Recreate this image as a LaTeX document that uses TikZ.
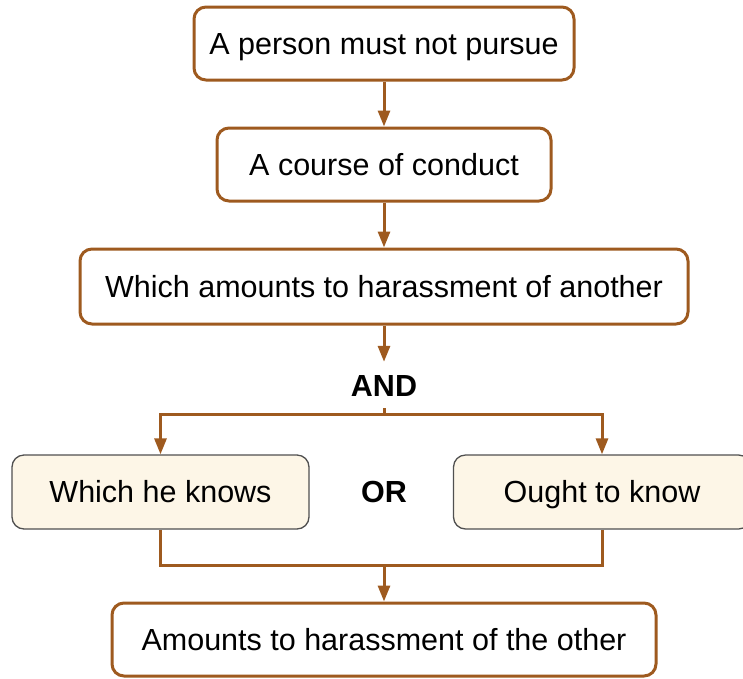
\documentclass[tikz,border=0pt]{standalone}
\usepackage{fontspec}
\setmainfont{Liberation Sans}
\usetikzlibrary{arrows.meta}
\usetikzlibrary{positioning}
\definecolor{lawbrown}{HTML}{9E5A1F}
\definecolor{lawcream}{HTML}{FDF6E7}
\definecolor{lawgrey}{HTML}{505050}
\tikzset{stepbox/.style={draw=lawbrown, line width=3pt, rounded corners=12pt,
fill=white, minimum height=73pt, inner sep=0pt, text height=22pt, text depth=0pt},
choicebox/.style={draw=lawgrey, line width=1.3pt, rounded corners=12pt,
fill=lawcream, minimum height=74pt, minimum width=297pt, inner sep=0pt,
text height=21pt, text depth=0pt},
link/.style={draw=lawbrown, line width=3pt, -{Triangle[length=16pt,width=12pt]}},
plainlink/.style={draw=lawbrown, line width=3pt},
joinword/.style={font=\fontsize{30.5}{36}\selectfont\bfseries, inner sep=0pt,
minimum height=46pt, text height=22pt, text depth=0pt}}

\begin{document}
\begin{tikzpicture}[x=1pt, y=-1pt, font=\fontsize{30.5}{36}\selectfont]
	\useasboundingbox (0,0) rectangle (743,678);
	\node[stepbox, minimum width=380pt] (pursue) at (384,43.5) {A person must not pursue};
	\node[stepbox, minimum width=334pt] (conduct) at (384,164.5) {A course of conduct};
	\node[stepbox, minimum width=608pt, minimum height=75pt] (harass) at (384,286.5) {Which amounts to harassment of another};
	\node[joinword] (and) at (384,385) {AND};
	\node[choicebox] (knows) at (160.5,492) {Which he knows};
	\node[joinword, minimum height=30pt] (or) at (384,491) {OR};
	\node[choicebox] (ought) at (602,492) {Ought to know};
	\node[stepbox, minimum width=544pt] (harm) at (384,639.5) {Amounts to harassment of the other};
	\coordinate (split) at (384,414);
	\coordinate (merge) at (384,565);
	% connectors
	\draw[link] (pursue) -- (conduct);
	\draw[link] (conduct) -- (harass);
	\draw[link] (harass) -- (and);
	\draw[plainlink] (and) -- (split);
	\draw[link] (split) -| (knows);
	\draw[link] (split) -| (ought);
	\draw[plainlink] (knows) |- (merge);
	\draw[plainlink] (ought) |- (merge);
	\draw[link] (merge) -- (harm);
\end{tikzpicture}
\end{document}
